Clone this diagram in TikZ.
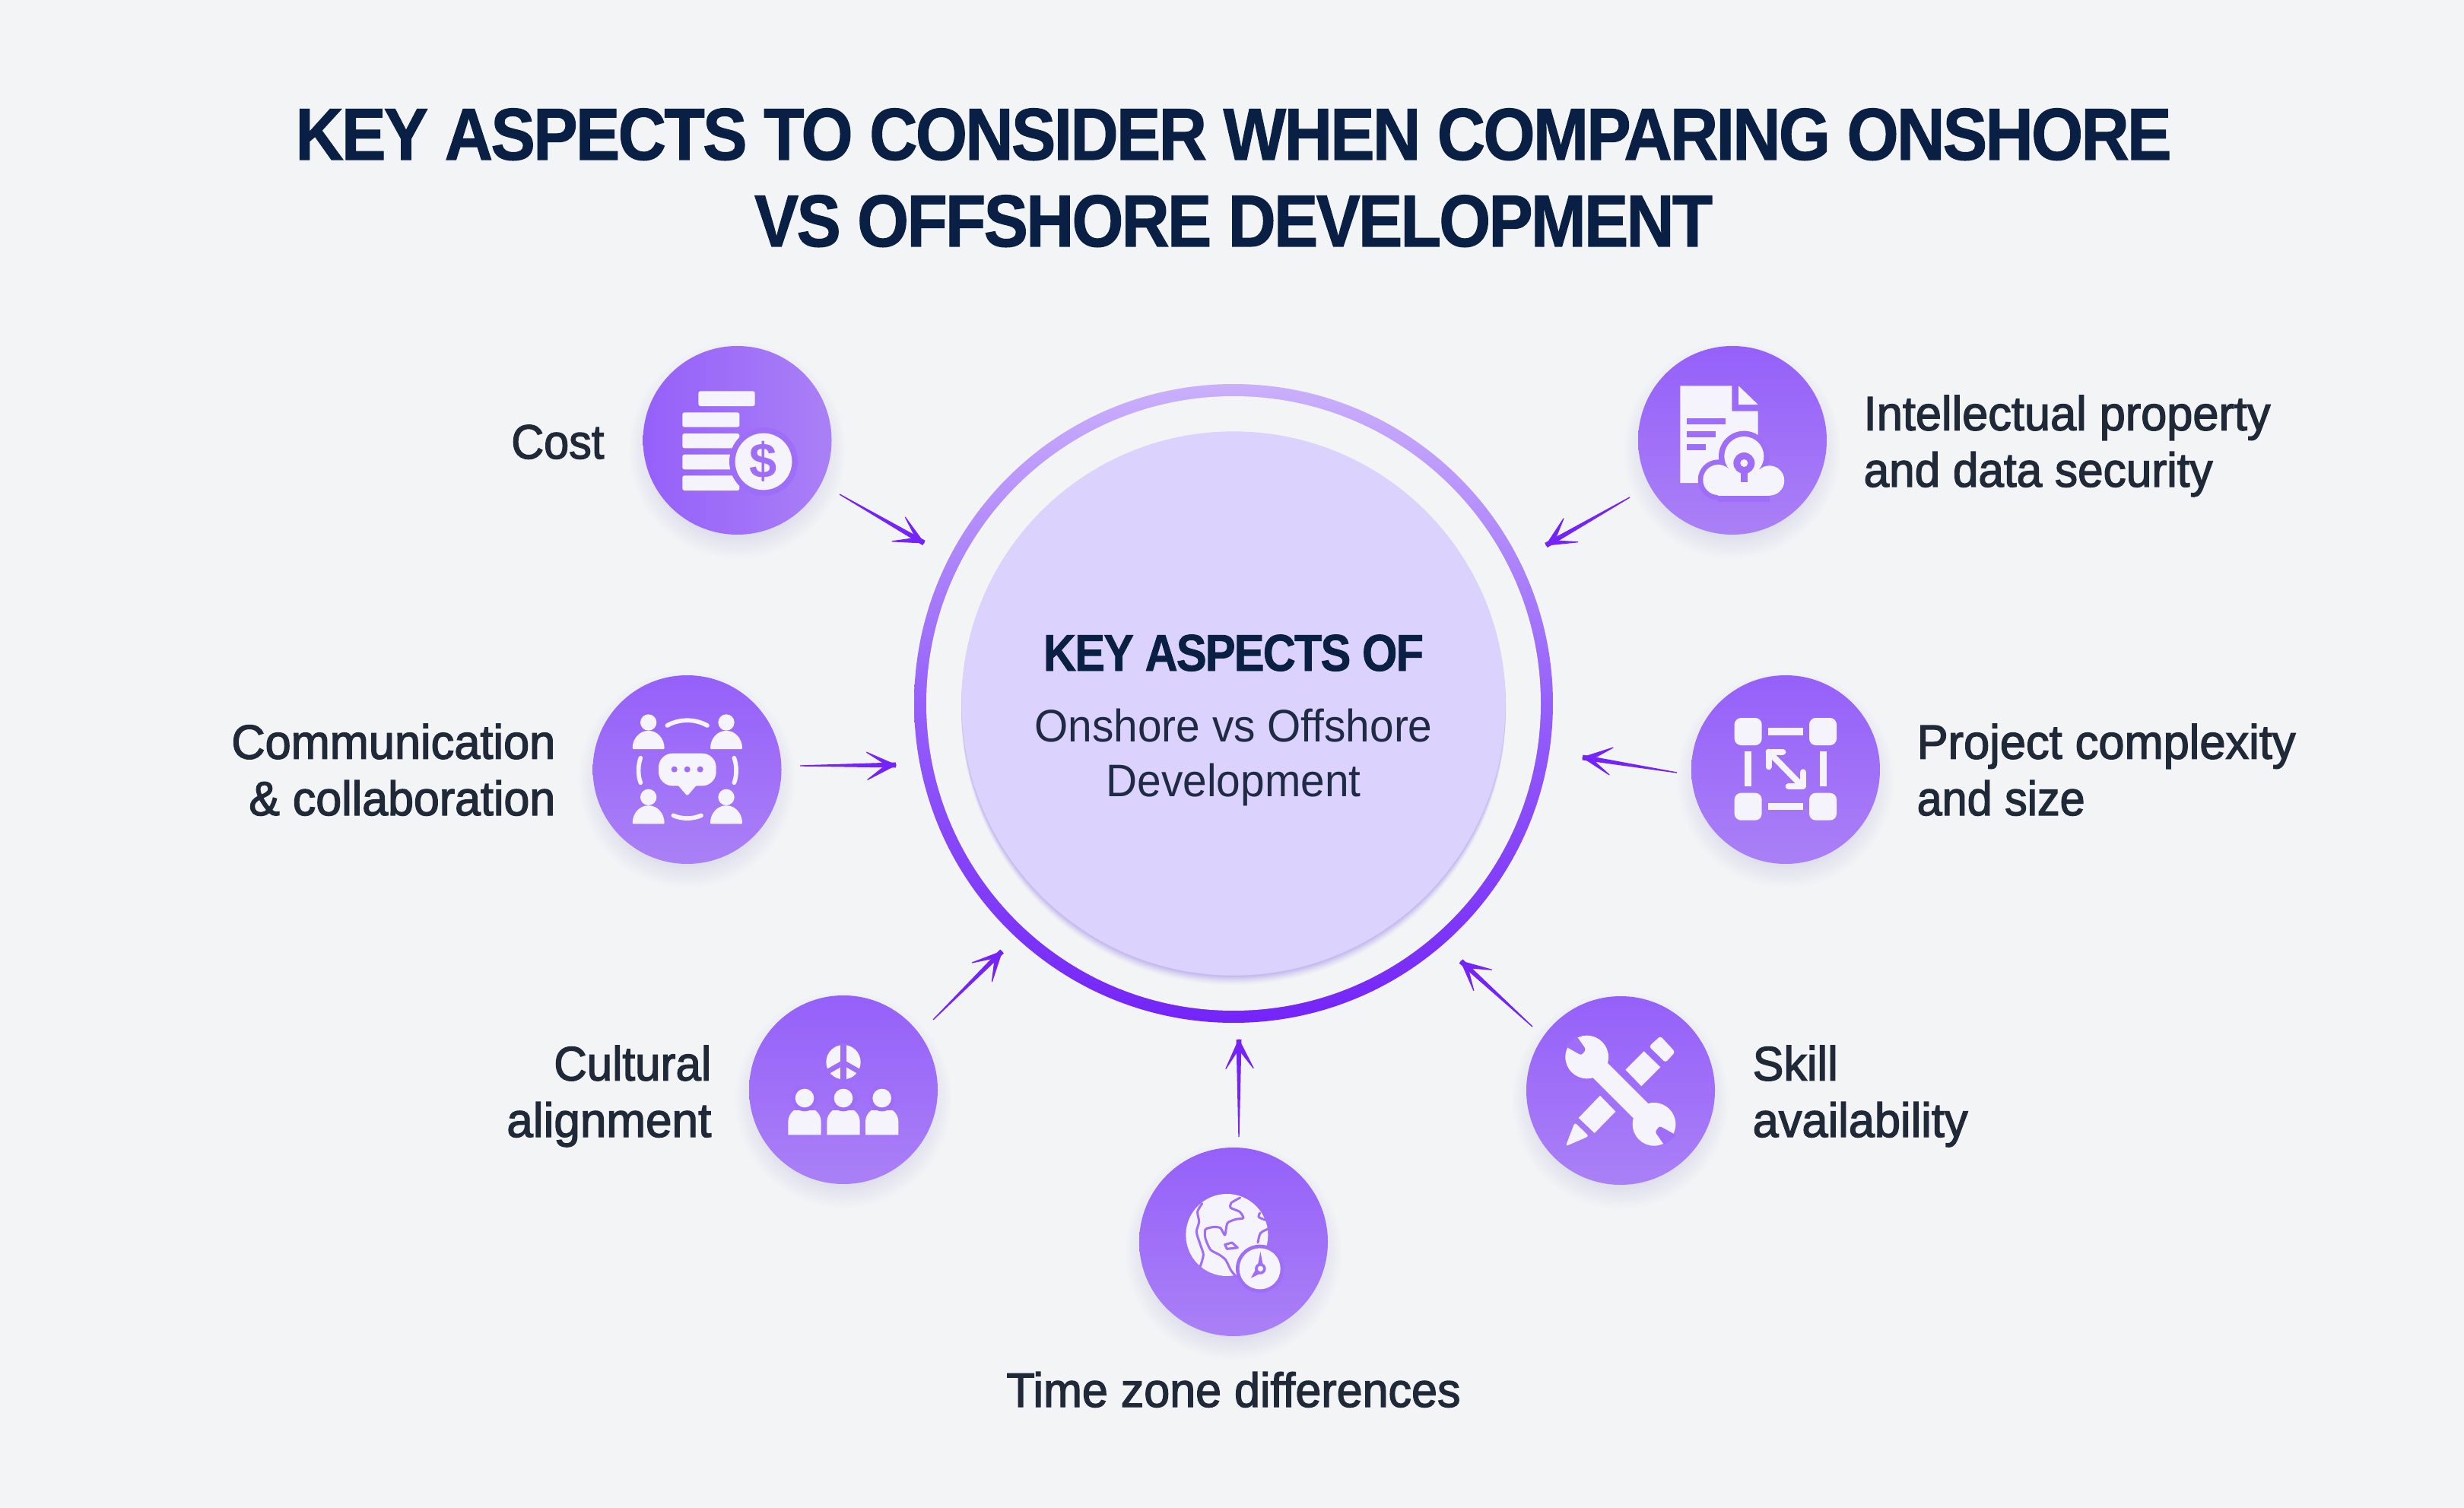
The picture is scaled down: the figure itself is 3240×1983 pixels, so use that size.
\documentclass[tikz,border=0pt]{standalone}
\usepackage{graphicx}
\usepackage{fontspec}
\usetikzlibrary{calc}
\setmainfont{Liberation Sans}
\newfontfamily\medf[FakeBold=2.2]{Liberation Sans}
\newfontfamily\ttlf[FakeBold=1.2,LetterSpace=-3]{Liberation Sans Bold}
\definecolor{bgc}{HTML}{F3F4F6}
\definecolor{titlec}{HTML}{0A1F44}
\definecolor{labelc}{HTML}{1F2937}
\definecolor{subc}{HTML}{1F2A44}
\definecolor{discc}{HTML}{DBD2FE}
\definecolor{arrowc}{HTML}{7424F8}
\definecolor{bubt}{HTML}{9560FA}
\definecolor{bubb}{HTML}{AA80F6}
\definecolor{bubm}{HTML}{9E6EF8}
\definecolor{icw}{HTML}{F5F3FC}
\definecolor{shadc}{HTML}{7F6FD0}
\definecolor{rimc}{HTML}{A48EF0}
\newcommand\fw[2]{\resizebox{\dimexpr.3pt*#1\relax}{\height}{#2}}
\tikzset{
  bub/.style={circle,inner sep=0pt,outer sep=0pt,minimum size=74.4pt,top color=bubt,bottom color=bubb},
  lab/.style={text=labelc,inner sep=0pt,font=\medf\fontsize{19}{22.3}\selectfont},
  ttl/.style={text=titlec,inner sep=0pt,font=\ttlf\fontsize{29}{33.6}\selectfont},
  loc/.style={x=.1pt,y=-.1pt},
  cut/.style={fill=bubm},
  ic/.style={fill=icw},
  icl/.style={draw=icw,line cap=round,line join=round},
  barb/.style={fill=arrowc,draw=arrowc,line width=.35pt,line join=round}
}
\newcommand\softshadow[2]{%
  \foreach \rr in {112,115,...,142}{\fill[shadc,opacity=.012] (#1,{#2+13}) circle (\rr);}}
\newcommand\taper[2]{%
  \fill[arrowc] ($(#1)!.2pt!90:(#2)$) -- ($(#1)!.5!(#2)!.62pt!90:(#2)$) -- ($(#2)!1.05pt!-90:(#1)$) -- ($(#2)!1.05pt!90:(#1)$) -- ($(#1)!.5!(#2)!.62pt!-90:(#2)$) -- ($(#1)!.2pt!-90:(#2)$) -- cycle;
  \filldraw[barb] (#2) -- ($(#2)!12.6pt!27:(#1)$) -- ($(#2)!5.5pt!12:(#1)$) -- cycle;
  \filldraw[barb] (#2) -- ($(#2)!12.6pt!-24:(#1)$) -- ($(#2)!5.5pt!-12:(#1)$) -- cycle;}
\newcommand\dome[3]{% centre x, base y, half width
  \fill[ic,rounded corners=.3pt] ({#1-#3},#2) .. controls ({#1-#3},{#2-45}) and ({#1-#3*.5},{#2-72}) .. (#1,{#2-72}) .. controls ({#1+#3*.5},{#2-72}) and ({#1+#3},{#2-45}) .. ({#1+#3},#2) -- cycle;}
\newcommand\pillar[1]{% culture figure
  \fill[ic] ({#1-65},607) -- ({#1-65},555) .. controls ({#1-65},535) and ({#1-55},520) .. ({#1-42},510) -- ({#1+42},510) .. controls ({#1+55},520) and ({#1+65},535) .. ({#1+65},555) -- ({#1+65},607) -- cycle;
  \fill[cut] (#1,462) circle (52);
  \fill[ic] (#1,462) circle (37);}
\begin{document}
\begin{tikzpicture}[x=.3pt,y=-.3pt]
\path[use as bounding box,fill=bgc] (0,0) rectangle (3240,1983);

% title
\node[ttl,anchor=base] (title1) at (1622,210) {\fw{2467}{KEY ASPECTS TO CONSIDER WHEN COMPARING ONSHORE}};
\node[ttl,anchor=base] (title2) at (1622,324) {\fw{1260}{VS OFFSHORE DEVELOPMENT}};

% hub
\node[circle,inner sep=0pt,outer sep=0pt,minimum size=252pt,top color=bubt!50!white,bottom color=arrowc,middle color=bubt] (ring) at (1622,925) {};
\node[circle,inner sep=0pt,minimum size=242.4pt,fill=bgc] (ringin) at (ring) {};
\foreach \dd/\oo in {12/.05,10/.07,8/.09,6/.12,4/.16,2/.2}{\fill[rimc,opacity=\oo] (1622,{925+\dd}) circle (358);}
\node[circle,inner sep=0pt,outer sep=0pt,minimum size=214.6pt,fill=discc] (hub) at (ring) {};
\node[ttl,anchor=base,font=\ttlf\fontsize{20.4}{24}\selectfont] (hubtitle) at (1622,882) {\fw{500}{KEY ASPECTS OF}};
\node[anchor=base,inner sep=0pt,text=subc,align=center,font=\fontsize{18}{21.6}\selectfont] (hubsub) at (1622,1047) {\fw{523}{Onshore vs Offshore}\\\fw{335}{Development}};

% bubbles
\softshadow{969.5}{579}\softshadow{2278}{579}\softshadow{903.5}{1012}\softshadow{2348}{1012}\softshadow{1109}{1433}\softshadow{2131}{1434}\softshadow{1622}{1633}
\node[bub,left color=bubt,right color=bubb] (cost) at (969.5,579) {};
\node[bub] (ip) at (2278,579) {};
\node[bub] (comm) at (903.5,1012) {};
\node[bub] (proj) at (2348,1012) {};
\node[bub] (cult) at (1109,1433) {};
\node[bub] (skill) at (2131,1434) {};
\node[bub] (time) at (1622,1633) {};

% labels
\node[lab,anchor=base east] (lcost) at (795,603) {\fw{122}{Cost}};
\node[lab,anchor=base east,align=right] (lcomm) at (731,1072) {\fw{426}{Communication}\\\fw{403}{\& collaboration}};
\node[lab,anchor=base east,align=right] (lcult) at (936,1495) {\fw{207}{Cultural}\\\fw{269}{alignment}};
\node[lab,anchor=base west,align=left] (lip) at (2450,640) {\fw{535}{Intellectual property}\\\fw{459}{and data security}};
\node[lab,anchor=base west,align=left] (lproj) at (2520,1072) {\fw{498}{Project complexity}\\\fw{221}{and size}};
\node[lab,anchor=base west,align=left] (lskill) at (2304,1495) {\fw{112}{Skill}\\\fw{283}{availability}};
\node[lab,anchor=base] (ltime) at (1622,1850) {\fw{597}{Time zone differences}};

% connectors
\coordinate (s1) at ($(cost)+(134.5,71)$);   \coordinate (e1) at ($(hub)+(-407,-211)$);
\coordinate (s2) at ($(ip)+(-135,75)$);      \coordinate (e2) at ($(hub)+(411,-208)$);
\coordinate (s3) at ($(comm)+(148.5,-5)$);   \coordinate (e3) at ($(hub)+(-444,81)$);
\coordinate (s4) at ($(proj)+(-143,4)$);     \coordinate (e4) at ($(hub)+(459,71)$);
\coordinate (s5) at ($(cult)+(118,-92)$);    \coordinate (e5) at ($(hub)+(-304.5,326)$);
\coordinate (s6) at ($(skill)+(-116,-84)$);  \coordinate (e6) at ($(hub)+(299,339)$);
\coordinate (s7) at ($(time)+(7,-138)$);     \coordinate (e7) at ($(hub)+(7,442)$);
\taper{s1}{e1}\taper{s2}{e2}\taper{s3}{e3}\taper{s4}{e4}\taper{s5}{e5}\taper{s6}{e6}\taper{s7}{e7}

% cost icon
\begin{scope}[shift={(800,420)},loc]
  \fill[ic,rounded corners=.8pt] (355,283) rectangle (578,342);
  \fill[ic,rounded corners=.8pt] (292,367) rectangle (517,425);
  \fill[ic,rounded corners=.8pt] (292,450) rectangle (517,508);
  \fill[ic,rounded corners=.8pt] (292,533) rectangle (517,592);
  \fill[ic,rounded corners=.8pt] (292,616) rectangle (517,675);
  \fill[cut] (612,561) circle (135);
  \fill[ic] (612,561) circle (112);
  \node[text=bubm,inner sep=0pt,font=\bfseries\fontsize{19.5}{20}\selectfont] (dollar) at (612,561) {\$};
\end{scope}

% intellectual property icon
\begin{scope}[shift={(2130,430)},loc]
  \fill[ic] (238,232) -- (442,232) -- (442,332) -- (545,332) -- (545,615) -- (238,615) -- cycle;
  \fill[ic] (468,232) -- (545,306) -- (468,306) -- cycle;
  \fill[cut] (264,360) rectangle (416,385);
  \fill[cut] (264,411) rectangle (378,436);
  \fill[cut] (264,462) rectangle (340,487);
  \fill[cut] (388,603) circle (80);
  \fill[cut] (490,510) circle (100);
  \fill[cut] (592,606) circle (60);
  \fill[cut] (388,600) rectangle (592,690);
  \fill[ic] (388,603) circle (60);
  \fill[ic] (490,510) circle (78);
  \fill[ic] (590,606) circle (59);
  \fill[ic] (388,560) rectangle (590,665);
  \fill[cut] (490,537) circle (42);
  \fill[cut] (478,560) rectangle (503,612);
  \fill[ic] (490,537) circle (15);
\end{scope}

% communication icon
\begin{scope}[shift={(760,870)},loc]
  \dome{278}{345}{63}\dome{585}{345}{63}\dome{278}{640}{63}\dome{585}{640}{63}
  \fill[ic] (278,240) circle (32);
  \fill[ic] (585,240) circle (32);
  \fill[ic] (278,535) circle (32);
  \fill[ic] (585,535) circle (32);
  \draw[icl,line width=1.7pt] (352,252) .. controls (400,225) and (462,225) .. (510,252);
  \draw[icl,line width=1.7pt] (376,607) .. controls (410,622) and (452,622) .. (486,607);
  \draw[icl,line width=1.7pt] (247,380) .. controls (236,410) and (236,450) .. (247,478);
  \draw[icl,line width=1.7pt] (616,380) .. controls (627,410) and (627,450) .. (616,478);
  \fill[ic,rounded corners=5.5pt] (318,362) rectangle (545,490);
  \fill[ic,rounded corners=.5pt] (392,485) -- (431,530) -- (470,485) -- cycle;
  \fill[cut] (380,425) circle (12);
  \fill[cut] (431,425) circle (12);
  \fill[cut] (482,425) circle (12);
\end{scope}

% project icon
\begin{scope}[shift={(2210,870)},loc]
  \fill[ic,rounded corners=2.6pt] (212,222) rectangle (320,330);
  \fill[ic,rounded corners=2.6pt] (507,222) rectangle (615,330);
  \fill[ic,rounded corners=2.6pt] (212,518) rectangle (320,626);
  \fill[ic,rounded corners=2.6pt] (507,518) rectangle (615,626);
  \fill[ic] (346,262) rectangle (482,290);
  \fill[ic] (346,558) rectangle (482,586);
  \fill[ic] (251,355) rectangle (279,492);
  \fill[ic] (548,355) rectangle (576,492);
  \draw[icl,line width=2.4pt] (347,356) -- (478,490);
  \draw[icl,line width=2.4pt] (403,356) -- (347,356) -- (347,415);
  \draw[icl,line width=2.4pt] (482,436) -- (482,492) -- (425,492);
\end{scope}

% culture icon
\begin{scope}[shift={(960,1290)},loc]
  \fill[ic] (447,320) circle (68);
  \draw[bubm,line width=2.2pt] (447,245) -- (447,395);
  \draw[bubm,line width=2pt] (377,362) -- (447,322) -- (517,362);
  \pillar{294}\pillar{447}\pillar{599}
\end{scope}

% skill icon
\begin{scope}[shift={(1980,1290)},loc]
  \fill[ic,rounded corners=1pt] (272,558) -- (328,612) -- (236,652) -- cycle;
  \fill[ic] (372,452) -- (433,515) -- (350,600) -- (287,540) -- cycle;
  \fill[ic] (545,277) -- (610,340) -- (535,415) -- (472,350) -- cycle;
  \fill[ic,rounded corners=1pt] (610,217) -- (668,280) -- (630,322) -- (565,258) -- cycle;
  \draw[icw,line width=8.2pt] (320,300) -- (585,565);
  \fill[ic] (320,300) circle (85);
  \fill[ic] (585,565) circle (85);
  \fill[cut,rounded corners=.8pt] (298,293) -- (316,270) -- (280,218) -- (232,256) -- cycle;
  \fill[cut,rounded corners=.8pt] (607,572) -- (589,595) -- (625,647) -- (673,609) -- cycle;
\end{scope}

% time icon
\begin{scope}[shift={(1470,1480)},loc]
  \fill[ic] (430,432) circle (162);
  \begin{scope}[line width=.9pt,line join=round,line cap=round]
    \draw[bubm] plot[smooth,tension=.5] coordinates {(332,308) (314,340) (320,380) (310,420) (325,470) (337,510) (325,555)};
    \draw[bubm] plot[smooth,tension=.4] coordinates {(482,285) (447,305) (445,325) (480,340) (495,365) (465,370) (432,385) (422,432) (405,405) (380,400) (345,410) (345,445) (365,490) (400,510) (425,530) (445,570) (465,595)};
    \draw[bubm] (422,470) -- (450,462) -- (472,482) -- (430,487) -- cycle;
    \draw[bubm] plot[smooth,tension=.5] coordinates {(560,345) (556,362) (590,375)};
    \draw[bubm] plot[smooth,tension=.5] coordinates {(592,408) (562,425) (552,462)};
  \end{scope}
  \fill[cut] (560,565) circle (95);
  \fill[ic] (560,565) circle (81);
  \fill[cut] (562,497) -- (572,550) -- (552,550) -- cycle;
  \fill[cut] (524,602) -- (548,560) -- (566,582) -- cycle;
  \fill[cut] (562,565) circle (22);
  \fill[ic] (562,565) circle (11);
\end{scope}
\end{tikzpicture}
\end{document}
